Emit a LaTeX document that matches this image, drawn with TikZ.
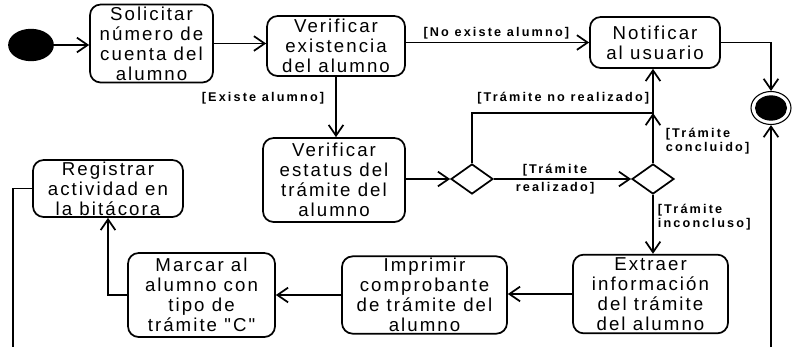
\documentclass[tikz,border=0pt]{standalone}
\usepackage{fontspec}
\setmainfont{Liberation Sans}
\newfontfamily\boxfont[LetterSpace=11]{Liberation Sans}
\newfontfamily\lblfont[LetterSpace=17]{Liberation Sans}
\usetikzlibrary{arrows.meta,shapes.geometric}
\begin{document}
\begin{tikzpicture}[x=0.75pt,y=-0.75pt,line width=1.3pt,
  >={Straight Barb[length=8pt,width=11pt]},
  act/.style={draw,rounded corners=8pt,align=center,inner sep=0pt,
    font=\boxfont\fontsize{14}{15}\selectfont},
  lbl/.style={inner sep=0pt,font=\lblfont\bfseries\fontsize{9.5}{11}\selectfont},
  dec/.style={draw,diamond,inner sep=0pt,minimum width=31.5pt,minimum height=22.5pt}]
\useasboundingbox (0,0) rectangle (793,347);
% nodes
\node[draw,fill=black,ellipse,inner sep=0pt,minimum width=33pt,minimum height=23pt] (start) at (31,45) {};
\node[act,minimum width=92.25pt,minimum height=58.5pt] (sol) at (151.5,43.5) {Solicitar\\número de\\cuenta del\\alumno};
\node[act,minimum width=103.5pt,minimum height=45pt] (vex) at (336,46) {Verificar\\existencia\\del alumno};
\node[act,minimum width=97.5pt,minimum height=38.25pt] (not) at (655,42.5) {Notificar\\al usuario};
\node[draw,ellipse,inner sep=0pt,line width=0.8pt,minimum width=30pt,minimum height=24.75pt] (fin) at (771,108) {};
\node[fill=black,ellipse,inner sep=0pt,minimum width=24pt,minimum height=19pt] (finin) at (fin.center) {};
\node[act,minimum width=106.5pt,minimum height=63pt] (ves) at (334,180) {Verificar\\estatus del\\trámite del\\alumno};
\node[dec] (d1) at (472,179) {};
\node[dec] (d2) at (653,179) {};
\node[act,minimum width=116.25pt,minimum height=59pt] (ext) at (650.5,294) {Extraer\\información\\del trámite\\del alumno};
\node[act,minimum width=123.75pt,minimum height=58pt] (imp) at (424.5,295) {Imprimir\\comprobante\\de trámite del\\alumno};
\node[act,minimum width=110.25pt,minimum height=63pt] (mar) at (201.5,295) {Marcar al\\alumno con\\tipo de\\trámite "C"};
\node[act,minimum width=112.5pt,minimum height=42.75pt] (reg) at (108,188.5) {Registrar\\actividad en\\la bitácora};
\coordinate (j) at (653,113);
\coordinate (bl) at (13,347);
\coordinate (br) at (771,347);
% labels
\node[lbl,anchor=east] (lne) at (570,33) {[No existe alumno]};
\node[lbl,anchor=east] (lex) at (325,98) {[Existe alumno]};
\node[lbl,anchor=east] (lnr) at (650,98) {[Trámite no realizado]};
\node[lbl,align=center] (lre) at (555,179) {[Trámite\\[2pt]realizado]};
\node[lbl,anchor=west,align=left] (lco) at (665,141) {[Trámite\\concluido]};
\node[lbl,anchor=west,align=left] (lin) at (657,217) {[Trámite\\inconcluso]};
% connectors
\draw[->] (start.east) -- (start.east -| sol.west);
\draw[->] (sol.east) -- (sol.east -| vex.west);
\draw[->] (vex.east |- not.west) -- (not.west);
\draw[->] (vex.south) -- (vex.south |- ves.north);
\draw[->] (ves.east |- d1.west) -- (d1.west);
\draw[->] (d1.east) -- (d2.west);
\draw[->] (d1.north) |- (j) -- (j |- not.south);
\draw[->] (d2.north) -- (j);
\draw[->] (d2.south) -- (d2.south |- ext.north);
\draw[->] (ext.west) -- (ext.west -| imp.east);
\draw[->] (imp.west) -- (imp.west -| mar.east);
\draw[->] (mar.west) -| (reg.south);
\draw (reg.west) -| (bl);
\draw[->] (br) -- (fin.south);
\draw[->] (not.east) -| (fin.north);
\end{tikzpicture}
\end{document}
